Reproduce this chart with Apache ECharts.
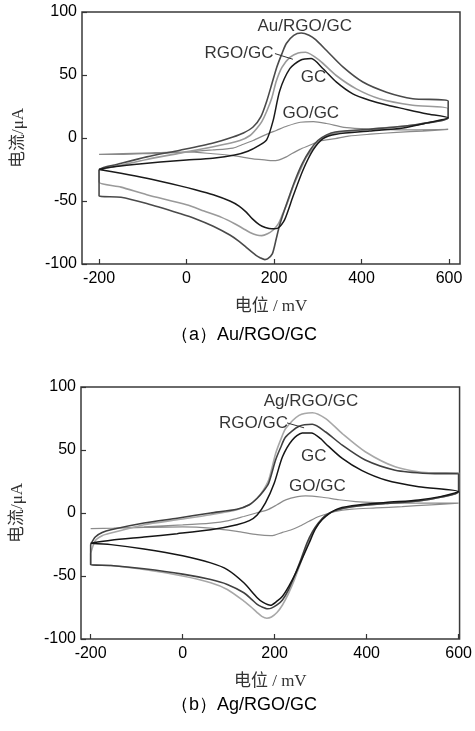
<!DOCTYPE html>
<html>
<head>
<meta charset="utf-8">
<script src="https://cdn.jsdelivr.net/npm/echarts@6/dist/echarts.min.js"></script>
<style>
  html, body { margin: 0; padding: 0; background: #fff; }
  #main { width: 475px; height: 731px; }
</style>
</head>
<body>
<div id="main"></div>
<script>
// tick labels
var xTicks = [-200, 0, 200, 400, 600];
var yTicks = [-100, -50, 0, 50, 100];

// (a) Au/RGO/GC panel: [potential mV, current uA], forward sweep then reverse
var gcA = [
    [-200, -25], [-170, -23], [-120, -21], [-60, -19], [0, -17.5], [60, -16], [110, -13.5], [140, -10.5],
    [165, -6], [183, -1.5], [198, 14], [213, 37.5], [236, 55], [259, 61.5], [285, 63], [312, 55],
    [342, 44.5], [380, 35], [418, 30], [460, 26], [495, 23.3], [548, 19.3], [598, 16],
    [550, 12], [495, 8], [418, 5.5], [342, 3], [312, -0.5], [289, -9.7], [266, -25.6], [243, -46.7],
    [224, -65], [209, -71.5], [195, -72], [180, -71], [167, -69], [150, -64], [137, -59], [120, -54],
    [99, -50], [61, -45], [20, -41], [-15, -38], [-91, -32], [-150, -28], [-200, -25]
];
var auA = [
    [-200, -25], [-190, -23.5], [-168, -21.6], [-91, -15], [-15, -9.7], [61, -4], [106, 0.8], [130, 4],
    [152, 8.7], [170, 17], [183, 29], [195, 43], [206, 56], [218, 67], [228, 75], [245, 81.5],
    [262, 83.3], [280, 81.5], [295, 78], [320, 69.4], [358, 56.2], [403, 44.4], [457, 36.4], [517, 31.2], [598, 29.3],
    [598, 16], [550, 12], [500, 9.5], [420, 7], [340, 4.8], [320, 2.5], [300, -2], [282, -9.7], [265, -20],
    [251, -31], [237, -44], [224, -57], [212, -70], [205, -80], [196, -92], [185, -96], [179, -96.5],
    [168, -95], [158, -93], [137, -87], [120, -82], [99, -77], [61, -70], [20, -64], [-15, -60],
    [-91, -52], [-150, -47], [-200, -46], [-200, -25]
];
var rgoA = [
    [-200, -25], [-185, -24], [-168, -23], [-91, -17], [-15, -12], [61, -7], [122, -2], [145, 2],
    [160, 7.4], [172, 13], [183, 21], [195, 32], [205, 45], [218, 56], [236, 64], [255, 67.5],
    [272, 68], [304, 61.5], [342, 49.6], [388, 39], [441, 31.2], [517, 26], [598, 23.3],
    [598, 16], [550, 12], [500, 9.5], [420, 7], [340, 4], [315, 1], [304, -2], [290, -8], [274, -15],
    [258, -27], [243, -39], [230, -52], [220, -60], [210, -68], [198, -73], [185, -76], [172, -77.5],
    [160, -77], [145, -75], [130, -72], [110, -68], [80, -63], [40, -58], [0, -53], [-91, -45],
    [-150, -39], [-200, -35], [-200, -25]
];
var goA = [
    [-200, -13], [-150, -13], [-100, -12.5], [-50, -12], [0, -11], [60, -9.5], [106, -8], [130, -5],
    [152, -2], [180, 2.5], [205, 6], [230, 9.5], [260, 12.5], [290, 13], [320, 11.5], [360, 8.5],
    [400, 7.5], [460, 6.7], [530, 6.5], [598, 6.8],
    [540, 5.5], [480, 4.5], [420, 3], [370, 1.5], [340, -0.5], [304, -2.5], [280, -6], [259, -9],
    [240, -12.5], [228, -15], [210, -17.5], [195, -18], [182, -17.5], [152, -16.5], [106, -14],
    [60, -12.5], [0, -11], [-100, -12], [-200, -13]
];

// (b) Ag/RGO/GC panel
var gcB = [
    [-200, -24], [-156, -21.7], [-84, -19.1], [-12, -16.4], [61, -13.3], [118, -9.3], [145, -6],
    [162, -1.5], [180, 8], [199, 23.6], [217, 44.6], [238, 57.8], [260, 63.5], [280, 63.5], [300, 59],
    [311, 55], [347, 43.3], [390, 33.6], [441, 26.2], [513, 20.9], [600, 17],
    [560, 13], [513, 10.4], [441, 8.3], [368, 5.7], [332, 2.5], [303, -5.4], [288, -13], [275, -23.8],
    [260, -36], [246, -47.5], [231, -58], [217, -66], [205, -70], [191, -73.3], [175, -71], [162, -67.2],
    [133, -55.4], [97, -44.9], [61, -39.6], [0, -34], [-84, -28.6], [-156, -25.1], [-200, -24]
];
var rgoB = [
    [-200, -25], [-190, -19], [-175, -15.5], [-156, -13.3], [-84, -8], [-12, -4.1], [61, 0], [118, 3],
    [145, 6.5], [162, 11.7], [175, 17], [187, 23.6], [202, 42], [213, 52], [224, 60.4], [253, 68.8],
    [282, 70.4], [311, 64.3], [347, 53.8], [397, 42], [462, 34], [535, 31.4], [600, 31],
    [600, 17], [560, 12.5], [513, 9.5], [441, 7.5], [368, 5], [332, 2], [310, -2], [295, -8], [282, -15],
    [270, -24], [256, -38], [243, -50], [230, -61], [217, -69], [205, -73], [193, -75.5], [185, -76],
    [172, -74.5], [162, -72.5], [150, -68.5], [133, -63.3], [97, -56.7], [61, -52.8], [0, -48.5],
    [-84, -44.3], [-156, -41.7], [-200, -41], [-200, -25]
];
var agB = [
    [-200, -32], [-190, -22], [-175, -18], [-156, -15.9], [-84, -9.3], [-12, -5.4], [61, -1.4], [118, 2.5],
    [145, 6.5], [162, 11.7], [175, 18], [187, 26.2], [202, 47], [213, 58], [224, 67], [253, 77.5],
    [282, 79.6], [311, 74.9], [347, 63], [397, 48.6], [462, 36.7], [535, 32], [600, 32],
    [600, 17], [560, 12.5], [513, 9.5], [441, 7.5], [368, 5], [332, 2], [310, -2.5], [295, -9], [282, -16],
    [270, -26], [256, -40], [243, -53], [230, -64], [217, -73], [205, -79], [193, -82.5], [183, -83.5],
    [172, -82], [162, -79], [150, -75], [133, -69.9], [97, -60.7], [61, -55.4], [0, -50], [-84, -44.9],
    [-156, -41.7], [-200, -41], [-200, -32]
];
var goB = [
    [-200, -12.4], [-150, -12], [-84, -11], [0, -9.5], [61, -8], [100, -6], [133, -2.8], [160, 0],
    [184, 2.5], [205, 6.5], [224, 10.4], [250, 13], [267, 13.6], [304, 12.5], [340, 10.5], [376, 9.1],
    [420, 8.3], [477, 7.8], [540, 7.8], [600, 7.8],
    [540, 6.5], [477, 5.1], [420, 4], [368, 3], [330, 1], [296, -2.8], [275, -6.5], [253, -10.7],
    [235, -13.5], [217, -15.4], [200, -17.5], [191, -18], [162, -17.2], [118, -14.6], [61, -12],
    [0, -11], [-84, -11.5], [-150, -12], [-200, -12.4]
];

var sans = '"Liberation Sans", Arial, sans-serif';
var serif = '"Liberation Serif", "Noto Sans CJK SC", serif';

function curve(data, idx, color, width) {
    return {
        type: 'line', xAxisIndex: idx, yAxisIndex: idx, data: data,
        symbol: 'none', smooth: 0.25, silent: true,
        lineStyle: { color: color, width: width }
    };
}
function labels(idx, items) {
    return {
        type: 'scatter', xAxisIndex: idx, yAxisIndex: idx, symbolSize: 1, silent: true,
        itemStyle: { color: 'transparent' },
        data: items.map(function (d) { return { name: d[0], value: [d[1], d[2]] }; }),
        label: { show: true, position: 'inside', formatter: '{b}', fontFamily: sans, fontSize: 17, color: '#000' }
    };
}
function xAx(idx, min, max) {
    return {
        type: 'value', gridIndex: idx, min: min, max: max,
        axisLine: { show: false, onZero: false },
        axisTick: { inside: true, length: 5, customValues: xTicks, lineStyle: { color: '#333', width: 1.2 } },
        axisLabel: { customValues: xTicks, margin: 7, fontFamily: sans, fontSize: 16, color: '#000' },
        splitLine: { show: false },
        name: '电位 / mV', nameLocation: 'middle', nameGap: 34,
        nameTextStyle: { fontFamily: serif, fontSize: 17, color: '#333' }
    };
}
function yAx(idx) {
    return {
        type: 'value', gridIndex: idx, min: yTicks[0], max: yTicks[yTicks.length - 1], interval: 50,
        axisLine: { show: false, onZero: false },
        axisTick: { inside: true, length: 5, lineStyle: { color: '#333', width: 1.2 } },
        axisLabel: { margin: 5, fontFamily: sans, fontSize: 16, color: '#000' },
        splitLine: { show: false },
        name: '电流/μA', nameLocation: 'middle', nameGap: 55,
        nameTextStyle: { fontFamily: serif, fontSize: 17, color: '#333' }
    };
}

var chart = echarts.init(document.getElementById('main'));
var option = {
    backgroundColor: '#fff',
    animation: false,
    grid: [
        { left: 82, top: 12, width: 378, height: 252, show: true, borderColor: '#3a3a3a', borderWidth: 1.5 },
        { left: 81, top: 387, width: 380, height: 252, show: true, borderColor: '#3a3a3a', borderWidth: 1.5 }
    ],
    xAxis: [xAx(0, -239, 625), xAx(1, -221, 602)],
    yAxis: [yAx(0), yAx(1)],
    graphic: [
        { type: 'text', x: 244, y: 335, style: { text: '（a）Au/RGO/GC', fontFamily: sans, fontSize: 18, fill: '#000', align: 'center', verticalAlign: 'middle' } },
        { type: 'text', x: 244, y: 705, style: { text: '（b）Ag/RGO/GC', fontFamily: sans, fontSize: 18, fill: '#000', align: 'center', verticalAlign: 'middle' } }
    ],
    series: [
        curve(goA, 0, '#8a8a8a', 1.2),
        curve(rgoA, 0, '#9a9a9a', 1.6),
        curve(auA, 0, '#4a4a4a', 1.6),
        curve(gcA, 0, '#1a1a1a', 1.5),
        curve(goB, 1, '#8c8c8c', 1.2),
        curve(agB, 1, '#a8a8a8', 1.6),
        curve(rgoB, 1, '#404040', 1.6),
        curve(gcB, 1, '#151515', 1.5),
        {
            type: 'line', xAxisIndex: 0, yAxisIndex: 0, data: [[202, 67], [243, 62.5]],
            symbol: 'none', silent: true, lineStyle: { color: '#333', width: 1 }
        },
        {
            type: 'line', xAxisIndex: 1, yAxisIndex: 1, data: [[227, 71.5], [264, 67.6]],
            symbol: 'none', silent: true, lineStyle: { color: '#333', width: 1 }
        },
        labels(0, [['Au/RGO/GC', 270, 89], ['RGO/GC', 120, 67], ['GC', 290, 48], ['GO/GC', 284, 19.5]]),
        labels(1, [['Ag/RGO/GC', 279, 89], ['RGO/GC', 154, 71.5], ['GC', 285, 44.7], ['GO/GC', 293, 21]])
    ]
};
chart.setOption(option);
window.addEventListener('resize', function () {
    chart.resize();
});
</script>
</body>
</html>
